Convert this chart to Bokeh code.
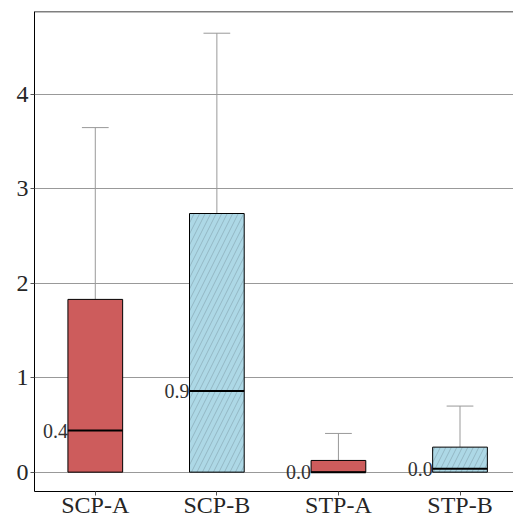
from bokeh.plotting import figure
from bokeh.models import Range1d, FixedTicker, ColumnDataSource, Span
from bokeh.core.properties import value
from bokeh.embed import file_html
from bokeh.resources import INLINE

categories = ["SCP-A", "SCP-B", "STP-A", "STP-B"]
q1 = [0.0, 0.0, 0.0, 0.0]
q3 = [1.83, 2.74, 0.124, 0.265]
medians = [0.44, 0.86, 0.0, 0.035]
lower = [0.0, 0.0, 0.0, 0.0]
upper = [3.65, 4.65, 0.41, 0.70]
fills = ["#CD5C5C", "#ADD8E6", "#CD5C5C", "#ADD8E6"]
hatches = [" ", "/", " ", "/"]
y_ticks = [0, 1, 2, 3, 4]

FONT = "Liberation Serif"
BW = 0.45
CW = 0.22

xs = list(range(len(categories)))
src = ColumnDataSource(dict(
    x=xs, q1=q1, q3=q3, med=medians, lo=lower, hi=upper, fill=fills, hatch=hatches,
    left=[x - BW / 2 for x in xs], right=[x + BW / 2 for x in xs],
    cl=[x - CW / 2 for x in xs], cr=[x + CW / 2 for x in xs],
    lab=[f"{m:.1f}" for m in medians],
))

y_end = 4.88
p = figure(width=513, height=520, output_backend="svg", toolbar_location=None,
           x_range=Range1d(-0.5, 3.44), y_range=Range1d(-0.205, y_end),
           min_border_left=34, min_border_top=11, min_border_right=0, min_border_bottom=10)

p.outline_line_color = None
p.add_layout(Span(location=y_end, dimension="width", line_color="black", line_width=1.5))
p.xgrid.visible = False
p.ygrid.grid_line_color = "#999999"
p.ygrid.grid_line_width = 1
p.ygrid.ticker = FixedTicker(ticks=y_ticks)

p.yaxis.ticker = FixedTicker(ticks=y_ticks)
p.xaxis.ticker = FixedTicker(ticks=xs)
p.xaxis.major_label_overrides = {i: c for i, c in enumerate(categories)}
for ax in (p.xaxis[0], p.yaxis[0]):
    ax.axis_line_color = "black"
    ax.axis_line_width = 1
    ax.major_label_text_font = FONT
    ax.major_label_text_font_size = "24px"
    ax.major_label_text_color = "#262626"
    ax.major_tick_in = 0
    ax.major_tick_out = 4
    ax.major_tick_line_color = "#555555"
    ax.minor_tick_line_color = None
p.xaxis.major_label_standoff = -4
p.yaxis.major_label_standoff = 2

# whiskers
p.segment(x0="x", y0="q3", x1="x", y1="hi", source=src, line_color="#999999", line_width=1)
p.segment(x0="x", y0="q1", x1="x", y1="lo", source=src, line_color="#999999", line_width=1)
p.segment(x0="cl", y0="hi", x1="cr", y1="hi", source=src, line_color="#999999", line_width=1)
p.segment(x0="cl", y0="lo", x1="cr", y1="lo", source=src, line_color="#999999", line_width=1)

# boxes
p.vbar(x="x", width=BW, bottom="q1", top="q3", source=src, fill_color="fill",
       line_color="black", line_width=1, hatch_pattern="hatch", hatch_color="#6f8a93",
       hatch_alpha=0.7, hatch_scale=11, hatch_weight=0.6)

# medians
p.segment(x0="left", y0="med", x1="right", y1="med", source=src, line_color="black", line_width=2)

p.text(x="left", y="med", text="lab", source=src, text_align="right", text_baseline="middle",
       text_font=value(FONT), text_font_size="20px", text_color="#333333")

open("out.html", "w").write(file_html(p, INLINE))
